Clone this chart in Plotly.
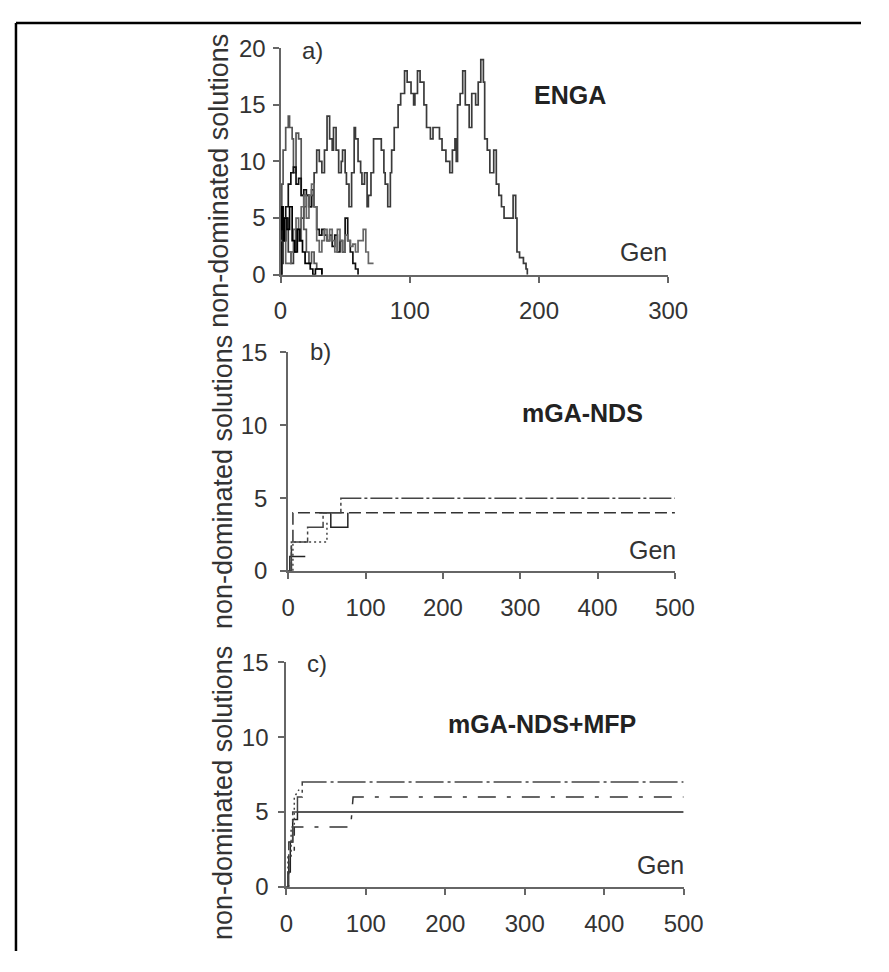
import plotly.graph_objects as go

# page has an 8px body margin; keep figure inside the 889x972 window
OFF = 8
W, H = 889 - 2 * OFF, 972 - 2 * OFF

# ---------------- data ----------------
# Panel a) ENGA : five runs
a1_gen = [0,2,4,6,8,10,12,14,16,18,20,22,24,26,28,30,32,34,36,38,40,41,43,45,47,48,50,51,53,55,
          57,58,60,62,63,65,67,68,70,72,74,76,78,80,81,83,85,86,88,91,93,96,98,101,103,104,106,108,111,113,
          116,118,121,123,125,128,131,133,135,136,137,139,141,143,146,148,151,153,155,157,158,160,162,165,167,169,171,173,175,177,
          180,182,183,185,188,190,191]
a1_val = [1,3,5,2,1,2,4,3,5,6,7,6,7,9,11,10,9,11,14,12,11,13,11,9,10,11,9,8,6,9,
          13,12,10,9,8,9,6,7,9,12,12,12,11,9,8,6,9,11,13,15,16,18,17,16,15,16,18,17,15,13,
          12,13,13,12,11,10,9,11,12,10,15,16,18,15,13,16,15,17,19,17,12,11,9,11,8,7,6,5,5,5,
          7,5,2,1.5,1,0.5,0]

a2_gen = [0,1,2,4,6,7,9,10,12,14,16,18,20,22,24,26,28,30,32]
a2_val = [0,8,11,13,14,13,12,9,12.5,12,7,4,2,1,2,1,0.5,0.5,0]

a3_gen = [0,1,2,4,6,8,10,12,14,16,18,20,22,24,26,28,30,32,34,36,38,40,42,44,46,48,50,52,54,56,58,60]
a3_val = [0,5,3,6,8,9,9.5,8,8.5,7,7.5,7,6,7.5,6,4,3.5,4,3.5,3,3.5,2.5,3.5,2,3,2,5,3,2,1,0.5,0]

a4_gen = [0,2,4,6,8,10,12,14,16,18,20,22,24,26,28,30,32,34,36,38,40,42,44,46,48,50,52,54,56,58,60,62,64,66,68,70,72]
a4_val = [3,5,1,1,2,4,5,3,6,7,5,7,8,6,3,2,3,4,3,4,3,2,4,3,2,3.5,3,2.5,2.7,2,3,3,4,2,1,1,1]

a5_gen = [0,1,2,3,5,7,9,11,13,15,17,19,21,23,25,27,29,31,32]
a5_val = [4,6,3,5,4,6,3,2,4,3,2,1,1,0.5,0,0.5,0.5,0.5,0]

# Panel b) mGA-NDS : four runs (step curves)
b1_gen = [0,2,2,22,None,40,55,55,77,77]
b1_val = [0,0,1,1,None,4,4,3,3,4]
b2_gen = [0,4,4,6,6,500]
b2_val = [0,0,2,2,4,4]
b3_gen = [0,4,4,25,25,45,45,68,68,500]
b3_val = [0,0,2,2,3,3,4,4,5,5]
b4_gen = [0,6,6,48,50,50]
b4_val = [0,0,2,2,2,3.5]

# Panel c) mGA-NDS+MFP : four runs (step curves)
c1_gen = [0,2,2,5,5,8,8,14,14,500]
c1_val = [0,0,1,1,3,3,4.5,4.5,5,5]
c2_gen = [0,3,3,8,8,14,14,20,20,500]
c2_val = [0,0,3,3,5,5,6,6,7,7]
c3_gen = [0,3,3,10,10,81,84,500]
c3_val = [0,0,2,2,4,4,6,6]
c4_gen = [0,2,2,6,6,10,10,16]
c4_val = [0,0,2,2,4,4,6,6.5]

a_xticks = [0, 100, 200, 300]
a_yticks = [0, 5, 10, 15, 20]
bc_xticks = [0, 100, 200, 300, 400, 500]
bc_yticks = [0, 5, 10, 15]

# ---------------- helpers (page pixel -> paper) ----------------
def px(x):
    return (x - OFF) / W

def py(y):
    return 1 - (y - OFF) / H

FONT = "Liberation Sans, Arial, sans-serif"
AX = "#666666"
TXT = "#333333"

fig = go.Figure()

def add(xs, ys, xa, ya, color="#333333", dash="solid", width=1.5, shape="linear"):
    fig.add_trace(go.Scatter(x=xs, y=ys, mode="lines", xaxis=xa, yaxis=ya,
                             line=dict(color=color, width=width, dash=dash, shape=shape),
                             showlegend=False, hoverinfo="skip"))

add(a1_gen, a1_val, "x", "y", "#3a3a3a", width=1.7, shape="hv")
add(a2_gen, a2_val, "x", "y", "#555555", width=1.7, shape="hv")
add(a3_gen, a3_val, "x", "y", "#111111", width=1.7, shape="hv")
add(a4_gen, a4_val, "x", "y", "#666666", width=1.7, shape="hv")
add(a5_gen, a5_val, "x", "y", "#000000", width=1.7, shape="hv")

add(b1_gen, b1_val, "x2", "y2", "#222222")
add(b2_gen, b2_val, "x2", "y2", "#333333", "12px,5px")
add(b3_gen, b3_val, "x2", "y2", "#444444", "22px,3px,3px,3px")
add(b4_gen, b4_val, "x2", "y2", "#444444", "2px,3px")

add(c1_gen, c1_val, "x3", "y3", "#222222")
add(c2_gen, c2_val, "x3", "y3", "#444444", "28px,4px,3px,4px")
add(c3_gen, c3_val, "x3", "y3", "#333333", "4px,11px,18px,11px")
add(c4_gen, c4_val, "x3", "y3", "#444444", "2px,3px")

def xaxis(dom, rng, ticks, anchor):
    return dict(domain=dom, range=rng, tickvals=ticks, ticktext=[str(t) for t in ticks],
                showline=True, linecolor=AX, linewidth=2, ticks="outside", ticklen=6,
                tickwidth=2, tickcolor=AX, showgrid=False, zeroline=False, anchor=anchor,
                tickfont=dict(family=FONT, size=24, color=TXT), ticklabelstandoff=8,
                fixedrange=True)

def yaxis(dom, rng, ticks, anchor, standoff):
    return dict(domain=dom, range=rng, tickvals=ticks, ticktext=[str(t) for t in ticks],
                showline=True, linecolor=AX, linewidth=2, ticks="outside", ticklen=6,
                tickwidth=2, tickcolor=AX, showgrid=False, zeroline=False, anchor=anchor,
                tickfont=dict(family=FONT, size=24, color=TXT), ticklabelstandoff=standoff,
                fixedrange=True)

fig.update_layout(
    width=W, height=H,
    margin=dict(l=0, r=0, t=0, b=0),
    paper_bgcolor="white", plot_bgcolor="white",
    xaxis=xaxis([px(282), px(682)], [0, 300], a_xticks, "y"),
    yaxis=yaxis([py(268), py(35)], [0, 20], a_yticks, "x", 2),
    xaxis2=xaxis([px(290), px(689)], [0, 500], bc_xticks, "y2"),
    yaxis2=yaxis([py(573), py(348)], [0, 15], bc_yticks, "x2", 8),
    xaxis3=xaxis([px(288), px(698)], [0, 500], bc_xticks, "y3"),
    yaxis3=yaxis([py(898), py(667)], [0, 15], bc_yticks, "x3", 5),
)

def ann(text, x, y, size=24, bold=False, angle=0, color=TXT):
    fig.add_annotation(text=f"<b>{text}</b>" if bold else text, x=px(x), y=py(y),
                       xref="paper", yref="paper", showarrow=False,
                       xanchor="center", yanchor="middle", textangle=angle,
                       font=dict(family=FONT, size=size, color=color))

ann("a)", 315, 37)
ann("b)", 323, 347)
ann("c)", 320, 668)
ann("ENGA", 581, 83, size=25, bold=True, color="#222222")
ann("mGA-NDS", 594, 410, size=25, bold=True, color="#222222")
ann("mGA-NDS+MFP", 552, 730, size=25, bold=True, color="#222222")
ann("Gen", 657, 245, size=25)
ann("Gen", 666, 551, size=25)
ann("Gen", 674, 875, size=25)
ann("non-dominated solutions", 219, 171, size=27, angle=-90)
ann("non-dominated solutions", 222, 481, size=27, angle=-90)
ann("non-dominated solutions", 222, 801, size=27, angle=-90)

# frame border (top and left edges visible)
fig.add_shape(type="line", xref="paper", yref="paper", x0=px(9), x1=1.0, y0=py(9), y1=py(9),
              line=dict(color="black", width=2.5))
fig.add_shape(type="line", xref="paper", yref="paper", x0=px(9), x1=px(9), y0=py(9), y1=0.0,
              line=dict(color="black", width=2.5))

fig.write_html("out.html")
